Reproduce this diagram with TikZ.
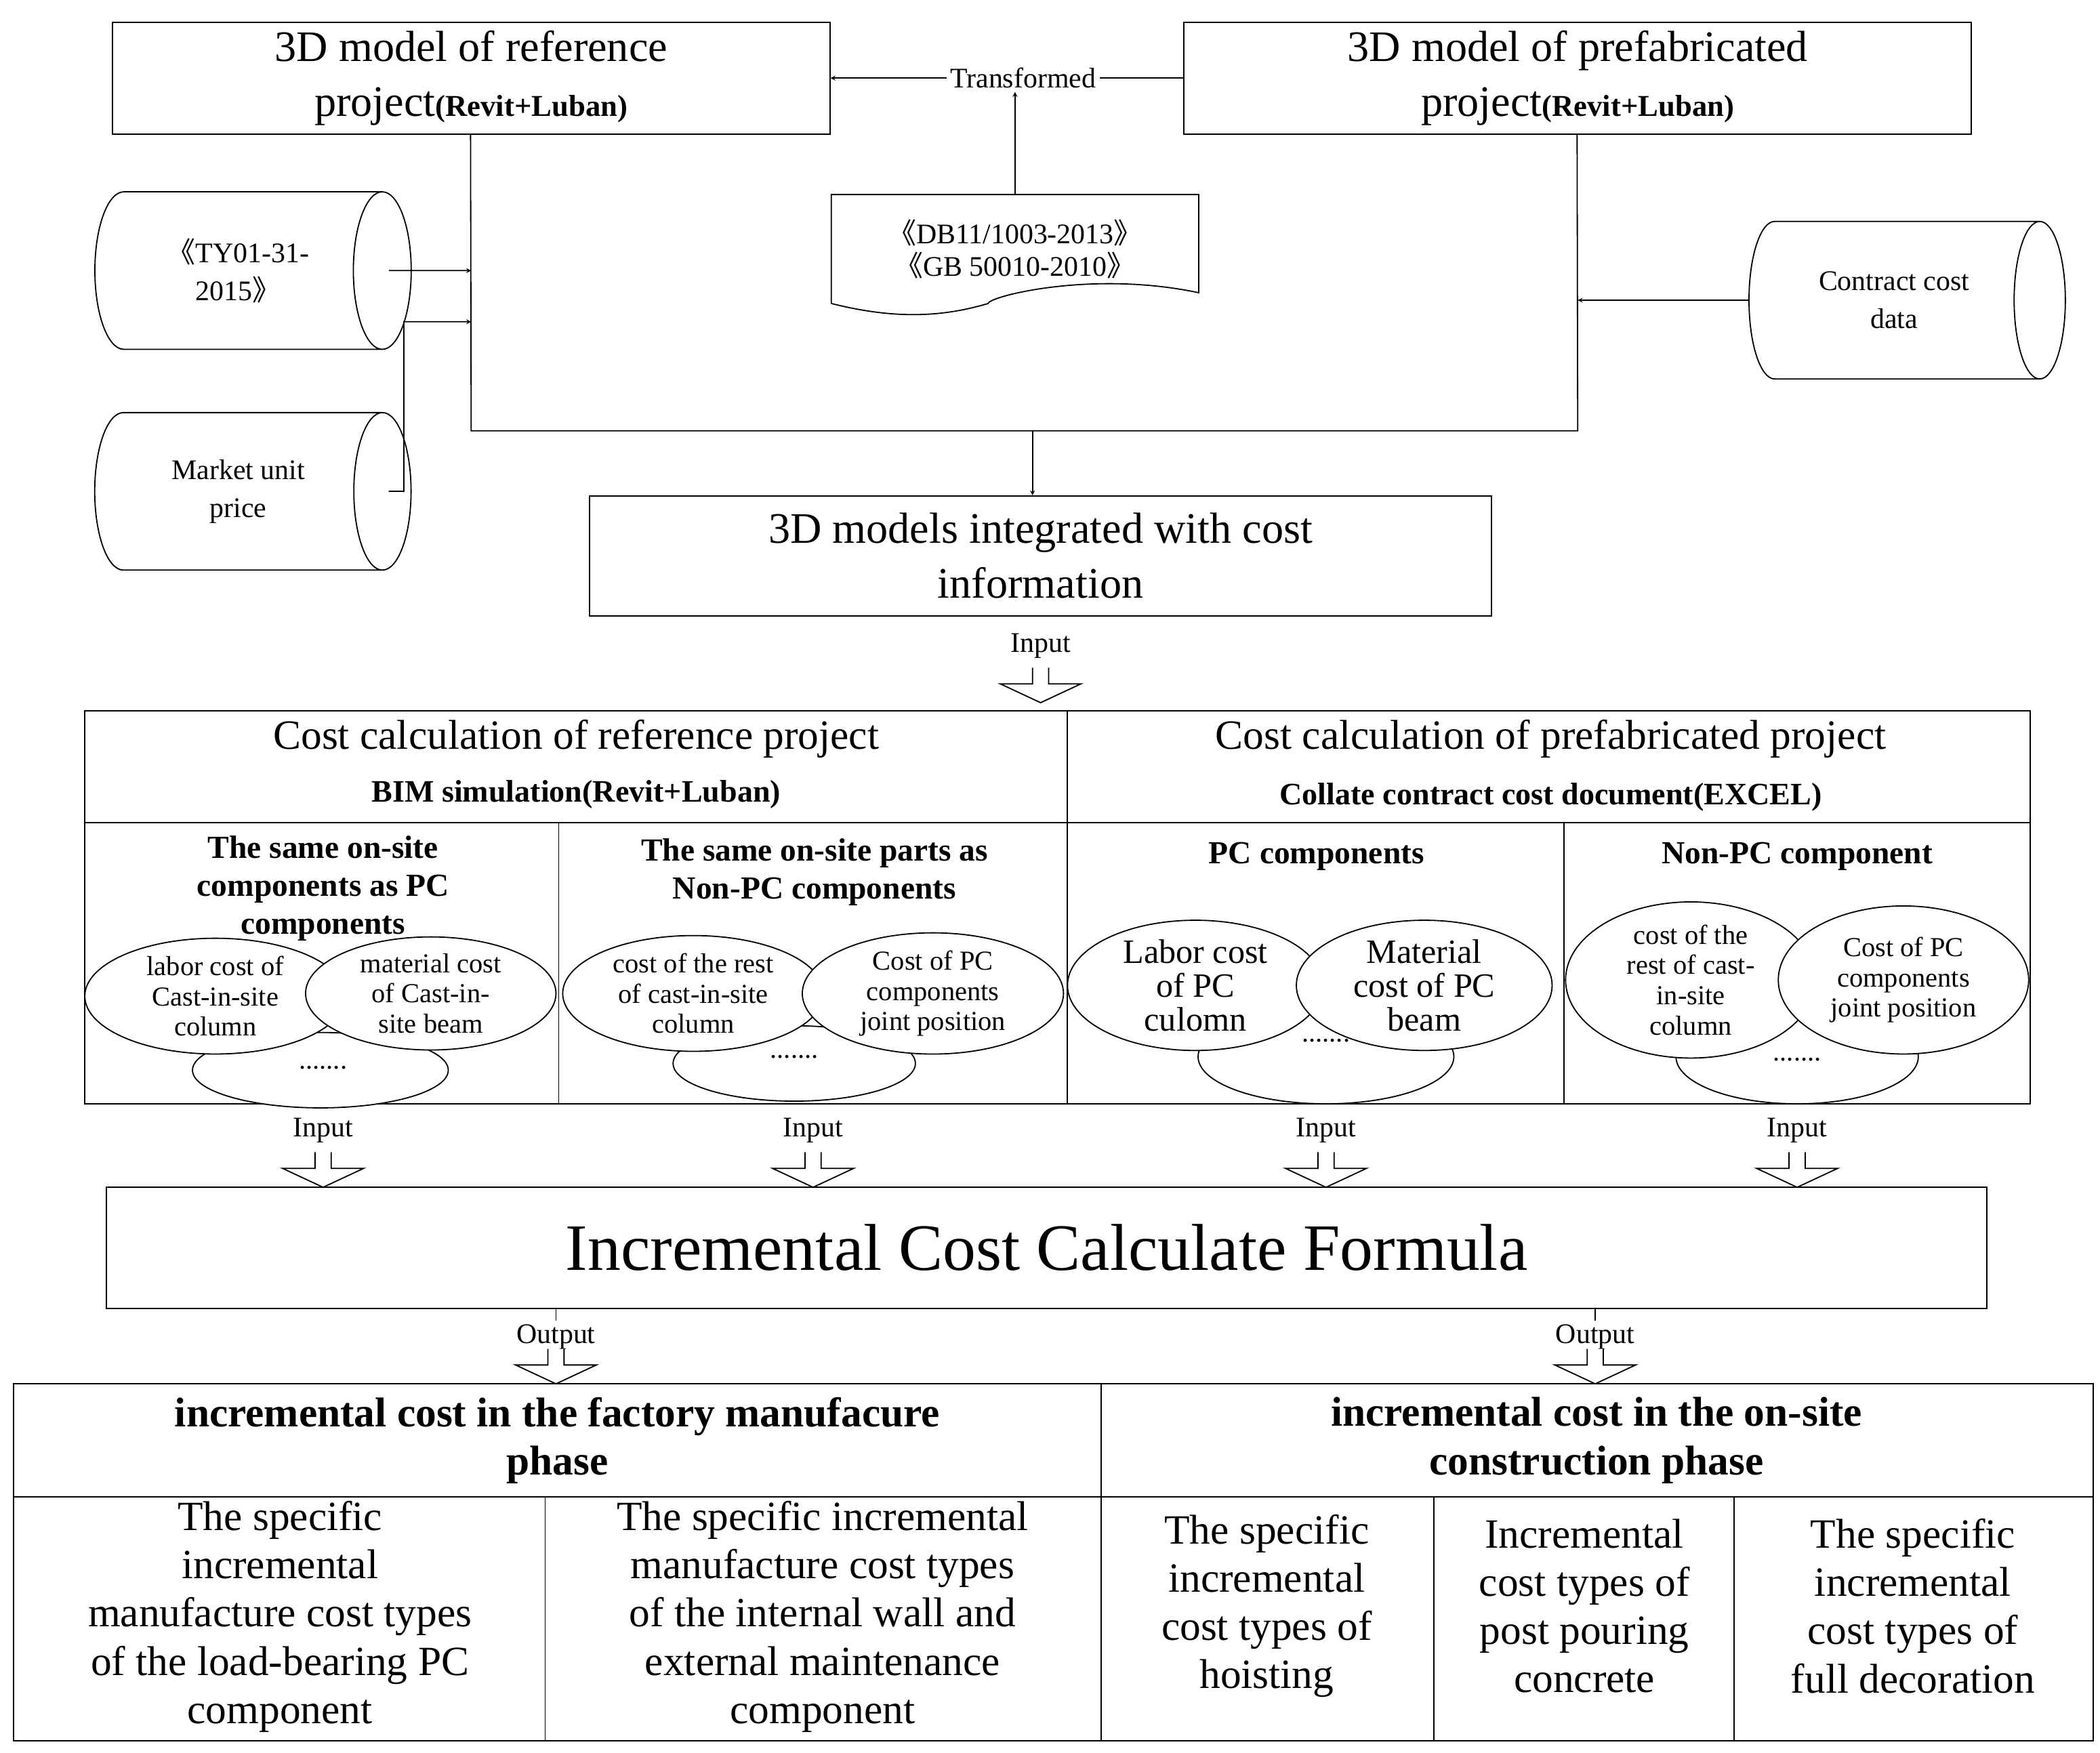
\documentclass[tikz,border=0pt]{standalone}
\usepackage{fontspec}
\setmainfont{Liberation Serif}
\newfontfamily\cjk{Noto Sans CJK SC}
\usetikzlibrary{arrows, shapes, positioning}
\newcommand{\fs}[1]{\fontsize{#1}{40}\selectfont}
\newcommand{\hollowdown}[1]{%
  \draw[fill=white] ($(#1)+(-6,-26)$) -- ($(#1)+(-6,-14)$) -- ($(#1)+(-30,-14)$) -- (#1)
    -- ($(#1)+(30,-14)$) -- ($(#1)+(6,-14)$) -- ($(#1)+(6,-26)$);}
\usetikzlibrary{calc}
\begin{document}
\begin{tikzpicture}[x=0.05cm, y=-0.05cm, line width=1.3pt,
		  % boxes with text
		  box/.style={draw, rectangle, align=center, inner sep=0pt},
		  bigtext/.style={align=center, font=\fontsize{46}{58}\selectfont},
		  smalltext/.style={align=center, font=\fontsize{30}{34}\selectfont},
		  bold/.style={align=center, font=\fontsize{34}{40}\selectfont\bfseries},
		  % data stores
		  store/.style={draw, cylinder, shape aspect=0.9, minimum width=117*0.05cm, minimum height=235*0.05cm, align=center, inner sep=0pt, font=\fontsize{30}{40}\selectfont},
		  % cost items
		  item/.style={draw, ellipse, fill=white, inner sep=0pt, align=center, font=\fontsize{29}{32}\selectfont},
		  arrow/.style={-stealth}
		  ]
  \useasboundingbox (0,0) rectangle (1560,1302);

  % top models
  \node[box, minimum width=533*0.05cm, minimum height=83*0.05cm] (ref3d) at (350,58) {};
  \node[bigtext] at (ref3d) {3D model of reference\\project{\fs{32}\bfseries(Revit+Luban)}};
  \node[box, minimum width=585*0.05cm, minimum height=83*0.05cm] (pre3d) at (1172,58) {};
  \node[bigtext] at (pre3d) {3D model of prefabricated\\project{\fs{32}\bfseries(Revit+Luban)}};
  \node[smalltext] (trans) at (760,58) {Transformed};
  \draw (pre3d.west) -- (trans.east);
  \draw[arrow] (trans.west) -- (ref3d.east);

  % standards document
  \node[smalltext, minimum width=272*0.05cm, minimum height=80*0.05cm] (norm) at (754,185) {{\cjk 《}DB11/1003-2013{\cjk 》}\\{\cjk 《}GB 50010-2010{\cjk 》}};
  \draw (norm.south west) -- (norm.north west) -- (norm.north east) -- ($(norm.south east)+(0,-8)$)
    .. controls ($(norm.south east)+(-80,-25)$) and ($(norm.south)+(-20,-5)$) .. ($(norm.south)+(-20,0)$)
    .. controls ($(norm.south)+(-60,12)$) and ($(norm.south west)+(40,10)$) .. (norm.south west);
  \draw[arrow] (norm.north) -- (norm.north |- trans.south);

  % data stores
  \node[store] (ty) at (177,201) {{\cjk 《}TY01-31-\\2015{\cjk 》}};
  \node[store] (market) at (177,365) {Market unit\\price};
  \node[store] (contract) at (1407,223) {Contract cost\\data};

  % collecting frame
  \coordinate (fl) at (350,320);
  \coordinate (fr) at (1172,320);
  \draw ($(ref3d.south west)+(266.5,0)$) -- (fl) -- (fr) -- ($(pre3d.south west)+(292.5,0)$);
  \draw[arrow] ($(ty.east)+(-17,0)$) -- (350,201);
  \draw[arrow] ($(market.east)+(-17,0)$) -- (300,365) -- (300,239) -- (350,239);
  \draw[arrow] (contract.west) -- (1172,223);

  % integrated models
  \node[box, minimum width=670*0.05cm, minimum height=89*0.05cm] (integ) at (773,413) {};
  \node[bigtext] at (integ) {3D models integrated with cost\\information};
  \draw[arrow] (767,320) -- (767,368);
  \node[smalltext] (in0) at (773,480) {Input};
  \hollowdown{773,522}

  % cost calculation table
  \draw (63,528) rectangle (1508,820);
  \draw (63,611) -- (1508,611);
  \draw (793,528) -- (793,820);
  \draw (415,611) -- (415,820);
  \draw (1162,611) -- (1162,820);
  \node[bigtext, font=\fontsize{44}{52}\selectfont] at (428,549) {Cost calculation of reference project};
  \node[bold, font=\fontsize{33}{40}\selectfont\bfseries] at (428,590) {BIM simulation(Revit+Luban)};
  \node[bigtext, font=\fontsize{44}{52}\selectfont] at (1152,549) {Cost calculation of prefabricated project};
  \node[bold, font=\fontsize{33}{40}\selectfont\bfseries] at (1152,592) {Collate contract cost document(EXCEL)};

  \node[bold] at (240,660) {The same on-site\\components as PC\\components};
  \node[bold] at (605,648) {The same on-site parts as\\Non-PC components};
  \node[bold] at (978,636) {PC components};
  \node[bold] at (1335,636) {Non-PC component};

  % cost items
  \node[item, minimum width=190*0.05cm, minimum height=56*0.05cm] (c1d) at (238,795) {};
  \node[item, minimum width=194*0.05cm, minimum height=86*0.05cm] (c1a) at (160,740) {labor cost of\\Cast-in-site\\column};
  \node[item, minimum width=186*0.05cm, minimum height=84*0.05cm] (c1b) at (320,738) {material cost\\of Cast-in-\\site beam};
  \node[font=\fontsize{29}{32}\selectfont] at (240,793) {.......};

  \node[item, minimum width=180*0.05cm, minimum height=56*0.05cm] (c2d) at (590,790) {};
  \node[item, minimum width=194*0.05cm, minimum height=86*0.05cm] (c2a) at (515,738) {cost of the rest\\of cast-in-site\\column};
  \node[item, minimum width=194*0.05cm, minimum height=90*0.05cm] (c2b) at (693,738) {Cost of PC\\components\\joint position};
  \node[font=\fontsize{29}{32}\selectfont] at (590,785) {.......};

  \node[item, minimum width=190*0.05cm, minimum height=70*0.05cm] (c3d) at (985,785) {};
  \node[item, minimum width=190*0.05cm, minimum height=90*0.05cm, font=\fontsize{36}{36}\selectfont] (c3a) at (888,732) {Labor cost\\of PC\\culomn};
  \node[item, minimum width=190*0.05cm, minimum height=90*0.05cm, font=\fontsize{36}{36}\selectfont] (c3b) at (1058,732) {Material\\cost of PC\\beam};
  \node[font=\fontsize{29}{32}\selectfont] at (985,773) {.......};

  \node[item, minimum width=180*0.05cm, minimum height=70*0.05cm] (c4d) at (1335,785) {};
  \node[item, minimum width=186*0.05cm, minimum height=110*0.05cm] (c4a) at (1256,728) {cost of the\\rest of cast-\\in-site\\column};
  \node[item, minimum width=186*0.05cm, minimum height=110*0.05cm] (c4b) at (1414,728) {Cost of PC\\components\\joint position};
  \node[font=\fontsize{29}{32}\selectfont] at (1335,787) {.......};

  % inputs to formula
  \foreach \x/\n in {240/1, 604/2, 985/3, 1335/4} {
    \node[smalltext] (in\n) at (\x,840) {Input};
    \hollowdown{\x,882}
  }

  % formula
  \node[box, minimum width=1397*0.05cm, minimum height=90*0.05cm, font=\fontsize{70}{80}\selectfont] (formula) at (777.5,927) {Incremental Cost Calculate Formula};

  % outputs
  \foreach \x/\n in {413/1, 1185/2} {
    \node[smalltext] (out\n) at (\x,993) {Output};
    \draw (\x,972) -- (out\n.north);
    \hollowdown{\x,1028}
  }

  % incremental cost table
  \draw (10,1028) rectangle (1555,1293);
  \draw (10,1112) -- (1555,1112);
  \draw (818,1028) -- (818,1293);
  \draw (405,1112) -- (405,1293);
  \draw (1065,1112) -- (1065,1293);
  \draw (1288,1112) -- (1288,1293);
  \node[bold, font=\fontsize{44}{51}\selectfont\bfseries] at (414,1070) {incremental cost in the factory manufacure\\phase};
  \node[bold, font=\fontsize{44}{51}\selectfont\bfseries] at (1186,1070) {incremental cost in the on-site\\construction phase};
  \node[bigtext, font=\fontsize{44}{51}\selectfont] at (208,1201) {The specific\\incremental\\manufacture cost types\\of the load-bearing PC\\component};
  \node[bigtext, font=\fontsize{44}{51}\selectfont] at (611,1201) {The specific incremental\\manufacture cost types\\of the internal wall and\\external maintenance\\component};
  \node[bigtext, font=\fontsize{44}{51}\selectfont] at (941,1193) {The specific\\incremental\\cost types of\\hoisting};
  \node[bigtext, font=\fontsize{44}{51}\selectfont] at (1177,1193) {Incremental\\cost types of\\post pouring\\concrete};
  \node[bigtext, font=\fontsize{44}{51}\selectfont] at (1421,1193) {The specific\\incremental\\cost types of\\full decoration};
\end{tikzpicture}
\end{document}
